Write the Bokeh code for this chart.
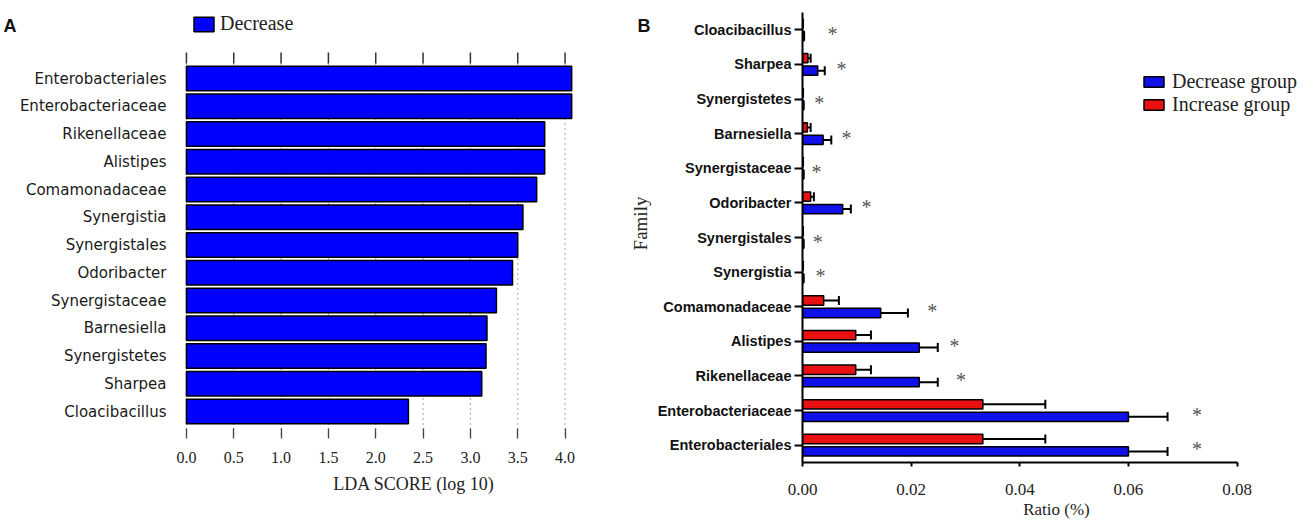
import math
from bokeh.plotting import figure
from bokeh.layouts import row
from bokeh.models import (Range1d, FactorRange, Legend, LegendItem, Label, LinearAxis,
                          FixedTicker, ColumnDataSource, PrintfTickFormatter,
                          CustomJSTickFormatter)
from bokeh.transform import dodge
from bokeh.core.properties import value
from bokeh.embed import file_html
from bokeh.resources import INLINE

# ---------------- data: panel A (LDA scores, top to bottom) ----------------
lda_taxa = ["Enterobacteriales", "Enterobacteriaceae", "Rikenellaceae", "Alistipes",
            "Comamonadaceae", "Synergistia", "Synergistales", "Odoribacter",
            "Synergistaceae", "Barnesiella", "Synergistetes", "Sharpea", "Cloacibacillus"]
lda_score = [4.07, 4.07, 3.785, 3.785, 3.70, 3.555, 3.50, 3.445, 3.275, 3.175, 3.165, 3.12, 2.345]
lda_ticks = [0.0, 0.5, 1.0, 1.5, 2.0, 2.5, 3.0, 3.5, 4.0]

# ---------------- data: panel B (relative abundance, top to bottom) --------
fam_taxa = ["Cloacibacillus", "Sharpea", "Synergistetes", "Barnesiella", "Synergistaceae",
            "Odoribacter", "Synergistales", "Synergistia", "Comamonadaceae", "Alistipes",
            "Rikenellaceae", "Enterobacteriaceae", "Enterobacteriales"]
dec_mean = [0.0003, 0.0028, 0.0002, 0.0038, 0.0002, 0.0074, 0.0002, 0.0002, 0.0144, 0.0215, 0.0215, 0.0600, 0.0600]
dec_sd   = [0.0, 0.0013, 0.0, 0.0015, 0.0, 0.0015, 0.0, 0.0, 0.0050, 0.0034, 0.0034, 0.0072, 0.0072]
inc_mean = [0.0001, 0.0010, 0.0001, 0.0009, 0.0001, 0.0015, 0.0001, 0.0001, 0.0039, 0.0098, 0.0098, 0.0332, 0.0332]
inc_sd   = [0.0, 0.0005, 0.0, 0.0006, 0.0, 0.0006, 0.0, 0.0, 0.0028, 0.0028, 0.0028, 0.0115, 0.0115]
star_x   = [0.0055, 0.0072, 0.0031, 0.0081, 0.0026, 0.0118, 0.0028, 0.0033, 0.0239, 0.0280, 0.0292, 0.0726, 0.0726]
ratio_ticks = [0.0, 0.02, 0.04, 0.06, 0.08]

SERIF = "Liberation Serif"

# ---------------- layout constants (pixels) ----------------
TOP = 12            # shared top border of both plots
BOTTOM = 59         # shared bottom border of both plots
A_W, A_H = 654, 497
A_LEFT = 170        # frame left of panel A
A_ZERO = 183        # pixel of LDA 0.0
A_PX = 95.25        # pixels per LDA unit
A_ROW0 = 78         # pixel y of first bar centre
A_ROWH = 27.75      # pixel spacing of bars
A_FB = A_H - BOTTOM # frame bottom (438)
B_W, B_H = 662, 521
B_LEFT = 144
B_ZERO = A_W + B_LEFT
B_PX = 438 / 0.08
B_FR = 1310

n = len(lda_taxa)
def a_y(px):
    return (px - A_ROW0) / A_ROWH

# ================= Panel A =================
pA = figure(width=A_W, height=A_H, output_backend="svg", toolbar_location=None, title=None,
            x_range=Range1d((A_LEFT - A_ZERO) / A_PX, (A_W - A_ZERO) / A_PX),
            y_range=Range1d(a_y(A_FB), a_y(TOP)),
            min_border_left=A_LEFT, min_border_right=0, min_border_top=TOP,
            min_border_bottom=BOTTOM)
pA.outline_line_color = None
pA.xgrid.visible = False
pA.ygrid.visible = False

# short solid top ticks, then dotted grid lines, at each LDA tick
tick_src = ColumnDataSource(dict(x=lda_ticks))
grid_src = ColumnDataSource(dict(x=lda_ticks))
pA.segment(x0="x", y0=a_y(52), x1="x", y1=a_y(63), source=tick_src,
           line_color="#333333", line_width=1.5, line_dash="solid")
pA.segment(x0="x", y0=a_y(63), x1="x", y1=a_y(A_FB), source=grid_src,
           line_color="#666666", line_dash="1 4", line_width=1.2)

srcA = ColumnDataSource(dict(y=list(range(n)), score=lda_score))
barsA = pA.hbar(y="y", left=0, right="score", height=0.88, source=srcA,
                fill_color="#0000FF", line_color="black", line_width=1.5)

xa = pA.xaxis[0]
xa.bounds = (lda_ticks[0], lda_ticks[-1])
xa.ticker = FixedTicker(ticks=lda_ticks)
xa.formatter = PrintfTickFormatter(format="%.1f")
xa.axis_line_color = None
xa.major_tick_in = 10
xa.major_tick_out = 0
xa.major_tick_line_color = "#444444"
xa.major_tick_line_width = 1.3
xa.minor_tick_line_color = None
xa.major_label_standoff = 13
xa.major_label_text_font = SERIF
xa.major_label_text_font_size = "16px"
xa.major_label_text_color = "#222222"
xa.axis_label = "LDA SCORE (log 10)"
xa.axis_label_text_font = SERIF
xa.axis_label_text_font_size = "18px"
xa.axis_label_text_font_style = "normal"
xa.axis_label_text_color = "#222222"
xa.axis_label_standoff = 8

ya = pA.yaxis[0]
ya.ticker = FixedTicker(ticks=list(range(n)))
ya.major_label_overrides = {i: t for i, t in enumerate(lda_taxa)}
ya.axis_line_color = None
ya.major_tick_line_color = None
ya.minor_tick_line_color = None
ya.major_tick_in = 0
ya.major_tick_out = 0
ya.axis_label_standoff = 0
ya.major_label_standoff = 7
ya.major_label_text_font = "DejaVu Sans"
ya.major_label_text_font_size = "15px"
ya.major_label_text_color = "#1a1a1a"

# panel letter "A" as an outer left axis with one tick
letter_ax = LinearAxis(ticker=FixedTicker(ticks=[a_y(25)]),
                       formatter=CustomJSTickFormatter(code="return 'A'"),
                       axis_line_color=None, major_tick_line_color=None,
                       minor_tick_line_color=None, major_tick_in=0, major_tick_out=0,
                       axis_label_standoff=0, major_label_standoff=0,
                       major_label_text_font="Liberation Sans",
                       major_label_text_font_style="bold",
                       major_label_text_font_size="18px",
                       major_label_text_color="#111111")
pA.add_layout(letter_ax, "left")

legA = Legend(items=[LegendItem(label="Decrease", renderers=[barsA])],
              location=(188 - A_LEFT, A_FB - 35), orientation="horizontal",
              padding=0, margin=0, spacing=0,
              border_line_color=None, background_fill_alpha=0,
              glyph_width=25, glyph_height=18, label_height=18, label_standoff=4,
              label_text_font=SERIF, label_text_font_size="20px", label_text_color="#222222")
pA.add_layout(legA)

# panel letter "B" and the y title of panel B sit in the gap at the right of panel A
pA.add_layout(Label(x=634 - A_LEFT, y=A_FB - 25, x_units="screen", y_units="screen", text="B",
                    text_font="Liberation Sans", text_font_style="bold", text_font_size="18px",
                    text_baseline="middle", text_color="#111111"))
pA.add_layout(Label(x=637 - A_LEFT, y=A_FB - 223, x_units="screen", y_units="screen",
                    text="Family", angle=math.pi / 2, text_align="center",
                    text_baseline="middle", text_font=SERIF, text_font_size="19px",
                    text_color="#222222"))

# ================= Panel B =================
fam_bottom_up = list(reversed(fam_taxa))
pB = figure(width=B_W, height=B_H, output_backend="svg", toolbar_location=None, title=None,
            x_range=Range1d(0, (B_FR - B_ZERO) / B_PX),
            y_range=FactorRange(factors=fam_bottom_up, range_padding=0),
            min_border_left=B_LEFT, min_border_right=B_W - B_LEFT - (B_FR - B_ZERO),
            min_border_top=TOP, min_border_bottom=BOTTOM)
pB.outline_line_color = None
pB.xgrid.visible = False
pB.ygrid.visible = False

srcB = ColumnDataSource(dict(
    fam=fam_taxa, dec=dec_mean, inc=inc_mean,
    dec_hi=[m + s for m, s in zip(dec_mean, dec_sd)],
    inc_hi=[m + s for m, s in zip(inc_mean, inc_sd)],
    star=star_x))

OFF = 0.18
HB = 0.27
y_dec = dodge("fam", -OFF, range=pB.y_range)
y_inc = dodge("fam", OFF, range=pB.y_range)

pB.segment(x0="dec", y0=y_dec, x1="dec_hi", y1=y_dec, source=srcB, line_color="black", line_width=2)
pB.segment(x0="inc", y0=y_inc, x1="inc_hi", y1=y_inc, source=srcB, line_color="black", line_width=2)
pB.scatter(x="dec_hi", y=y_dec, source=srcB, marker="dash", angle=math.pi / 2, size=9,
           line_color="black", line_width=2)
pB.scatter(x="inc_hi", y=y_inc, source=srcB, marker="dash", angle=math.pi / 2, size=9,
           line_color="black", line_width=2)

decB = pB.hbar(y=y_dec, left=0, right="dec", height=HB, source=srcB,
               fill_color="#1010E8", line_color="black", line_width=1.5)
incB = pB.hbar(y=y_inc, left=0, right="inc", height=HB, source=srcB,
               fill_color="#E81010", line_color="black", line_width=1.5)

pB.text(x="star", y=dodge("fam", -0.12, range=pB.y_range), source=srcB, text=value("*"),
        text_font=value(SERIF), text_font_size="20px", text_color="#555555",
        text_align="center", text_baseline="middle")

xb = pB.xaxis[0]
xb.bounds = (ratio_ticks[0], ratio_ticks[-1])
xb.ticker = FixedTicker(ticks=ratio_ticks)
xb.formatter = PrintfTickFormatter(format="%.2f")
xb.axis_line_width = 2
xb.axis_line_color = "black"
xb.major_tick_in = 0
xb.major_tick_out = 4
xb.major_tick_line_width = 2
xb.minor_tick_line_color = None
xb.major_label_standoff = 17
xb.major_label_text_font = SERIF
xb.major_label_text_font_size = "17px"
xb.major_label_text_color = "#222222"
xb.axis_label = "Ratio (%)"
xb.axis_label_text_font = SERIF
xb.axis_label_text_font_size = "17px"
xb.axis_label_text_font_style = "normal"
xb.axis_label_text_color = "#222222"
xb.axis_label_standoff = 2

yb = pB.yaxis[0]
yb.axis_line_width = 2
yb.axis_line_color = "black"
yb.major_tick_in = 0
yb.major_tick_out = 8
yb.major_tick_line_width = 2
yb.major_label_standoff = 3
yb.axis_label_standoff = 0
yb.major_label_text_font = "Liberation Sans"
yb.major_label_text_font_style = "bold"
yb.major_label_text_font_size = "14.5px"
yb.major_label_text_color = "#111111"

legB = Legend(items=[LegendItem(label="Decrease group", renderers=[decB]),
                     LegendItem(label="Increase group", renderers=[incB])],
              location=(1137 - B_ZERO, (B_H - BOTTOM) - 115.5), padding=0, margin=0, spacing=0,
              border_line_color=None, background_fill_alpha=0,
              glyph_width=25, glyph_height=13, label_height=21, label_standoff=6,
              label_text_font=SERIF, label_text_font_size="20px", label_text_color="#222222")
pB.add_layout(legB)

layout = row(pA, pB)
open("out.html", "w").write(file_html(layout, INLINE))
